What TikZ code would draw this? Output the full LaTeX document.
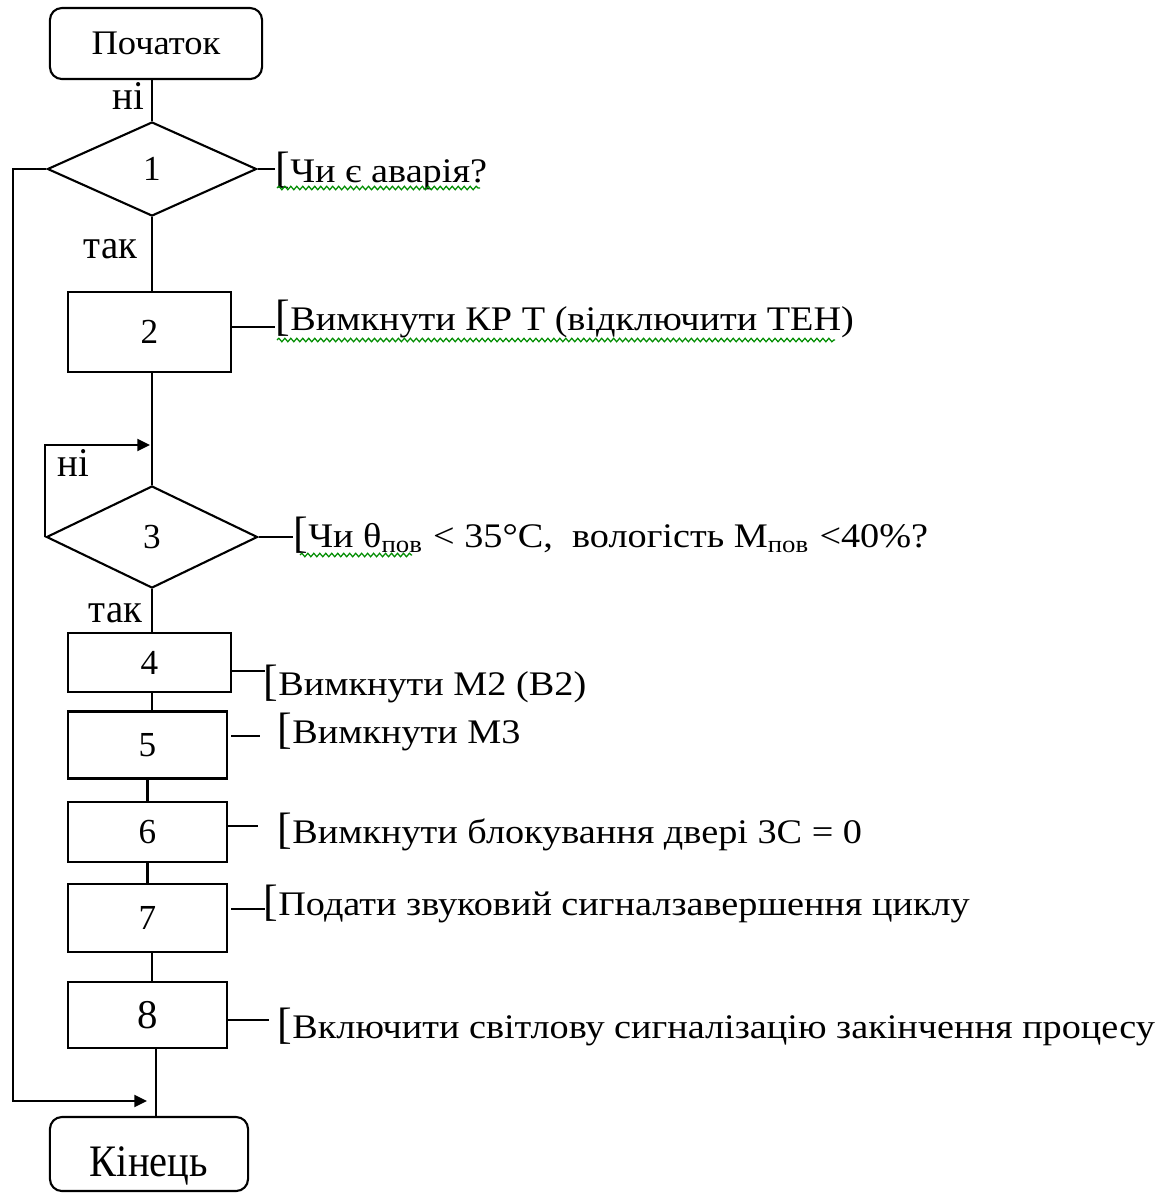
\documentclass[tikz,border=0pt]{standalone}
\usepackage{fontspec}
\setmainfont{Liberation Serif}
\newfontfamily\notefont{Liberation Serif}[FakeStretch=1.11]
\newfontfamily\startfont{Liberation Serif}[FakeStretch=1.06]
\newfontfamily\endfont{Liberation Serif}[FakeStretch=0.9]
\newfontfamily\labelfont{Liberation Serif}[FakeStretch=0.95]
\usetikzlibrary{shapes.geometric,arrows.meta,decorations.pathmorphing}

% opening bracket of a comment, set a little larger than its text
\newcommand\openbr{{\normalfont\fontsize{12.5pt}{14pt}\selectfont[}}

\tikzset{
  flow/.style={line width=0.6pt, draw=black},
  terminal/.style={flow, rectangle, rounded corners=0.12cm, inner sep=0pt},
  stepbox/.style={flow, rectangle, inner sep=0pt, minimum width=1.59cm,
                  font=\fontsize{10pt}{12pt}\selectfont},
  decision/.style={flow, diamond, inner sep=0pt,
                   font=\fontsize{10pt}{12pt}\selectfont},
  note/.style={anchor=base west, inner sep=0pt,
               font=\notefont\fontsize{9.8pt}{12pt}\selectfont},
  answer/.style={anchor=base west, inner sep=0pt,
                 font=\labelfont\fontsize{11.6pt}{13pt}\selectfont},
  link/.style={line width=0.6pt},
  back/.style={line width=0.6pt, -{Triangle[length=3.6pt,width=3.4pt]}},
  wavy/.style={draw=green!55!black, line width=0.35pt,
               decorate, decoration={snake, amplitude=0.5pt, segment length=1.7pt}}
}

\begin{document}
\begin{tikzpicture}[x=0.01cm, y=-0.01cm]
  \path[use as bounding box] (0,0) rectangle (1167,1193);

  % terminals
  \node[terminal, minimum width=2.12cm, minimum height=0.71cm,
        font=\startfont\fontsize{9.8pt}{12pt}\selectfont] (start) at (156,43.5) {Початок};
  \node[terminal, minimum width=1.98cm, minimum height=0.74cm,
        text height=0.45cm, text depth=0pt,
        font=\endfont\fontsize{12.8pt}{14pt}\selectfont] (stop) at (149,1154) {Кінець};

  % decisions
  \node[decision, minimum width=2.09cm, minimum height=0.94cm] (d1) at (152,169) {1};
  \node[decision, minimum width=2.11cm, minimum height=1.02cm] (d3) at (152,537) {3};

  % process blocks
  \node[stepbox, minimum width=1.63cm, minimum height=0.80cm] (b2) at (149.5,332) {2};
  \node[stepbox, minimum width=1.63cm, minimum height=0.59cm] (b4) at (149.5,662.5) {4};
  \node[stepbox, minimum height=0.67cm] (b5) at (147.5,745) {5};
  \node[stepbox, minimum height=0.60cm] (b6) at (147.5,832) {6};
  \node[stepbox, minimum height=0.68cm] (b7) at (147.5,918) {7};
  \node[stepbox, minimum height=0.66cm,
        font=\fontsize{11.6pt}{13pt}\selectfont] (b8) at (147.5,1015) {8};

  % main flow
  \draw[link] (d1.north |- start.south) -- (d1.north);
  \draw[link] (d1.south) -- (d1.south |- b2.north);
  \draw[link] (d3.north |- b2.south) -- (d3.north);
  \draw[link] (d3.south) -- (d3.south |- b4.north);
  \draw[link] (d3.south |- b4.south) -- (d3.south |- b5.north);
  \draw[link] (b5.south) -- (b6.north);
  \draw[link] (b6.south) -- (b7.north);
  \draw[link] (d3.south |- b7.south) -- (d3.south |- b8.north);
  \draw[link] (156,0 |- b8.south) -- (156,0 |- stop.north);

  % bypass from decision 1 to the end
  \coordinate (endin) at (147,1101);
  \draw[back] (d1.west) -- (13,0 |- d1.west) |- (endin);

  % waiting loop of decision 3
  \coordinate (loopin) at (150,445);
  \draw[back] (d3.west) -- (d3.west |- loopin) -- (loopin);

  % branch labels
  \node[answer] (no1) at (112,109) {ні};
  \node[answer] (yes1) at (83,258) {так};
  \node[answer] (no3) at (57,476) {ні};
  \node[answer] (yes3) at (88,622) {так};

  % comments
  \node[note] (t1) at (275,182) {\openbr Чи є аварія?};
  \node[note] (t2) at (275,330) {\openbr Вимкнути КР Т (відключити ТЕН)};
  \node[note] (t3) at (293,547) {\openbr Чи θ\textsubscript{пов} < 35°C,\ \ вологість М\textsubscript{пов} <40\%?};
  \node[note] (t4) at (263,695) {\openbr Вимкнути М2 (В2)};
  \node[note] (t5) at (277,743) {\openbr Вимкнути М3};
  \node[note] (t6) at (277,843) {\openbr Вимкнути блокування двері 3С = 0};
  \node[note] (t7) at (263,915) {\openbr Подати звуковий сигналзавершення циклу};
  \node[note] (t8) at (277,1038) {\openbr Включити світлову сигналізацію закінчення процесу};

  % comment leaders
  \coordinate (l1) at (275,169);
  \coordinate (l2) at (275,327);
  \coordinate (l3) at (293,537);
  \coordinate (l4) at (265,671);
  \coordinate (l5) at (260,736);
  \coordinate (l6) at (258,826);
  \coordinate (l7) at (265,909);
  \coordinate (l8) at (269,1020);
  \draw[link] (d1.east) -- (l1);
  \draw[link] (b2.east |- l2) -- (l2);
  \draw[link] (d3.east) -- (l3);
  \draw[link] (b4.east |- l4) -- (l4);
  \draw[link] (b5.east |- l5) ++(3,0) -- (l5);
  \draw[link] (b6.east |- l6) -- (l6);
  \draw[link] (b7.east |- l7) ++(3,0) -- (l7);
  \draw[link] (b8.east |- l8) -- (l8);

  % spelling marks under the comments
  \draw[wavy] (277,188) -- (480,188);
  \draw[wavy] (277,340) -- (835,340);
  \draw[wavy] (300,555) -- (412,555);
\end{tikzpicture}
\end{document}
